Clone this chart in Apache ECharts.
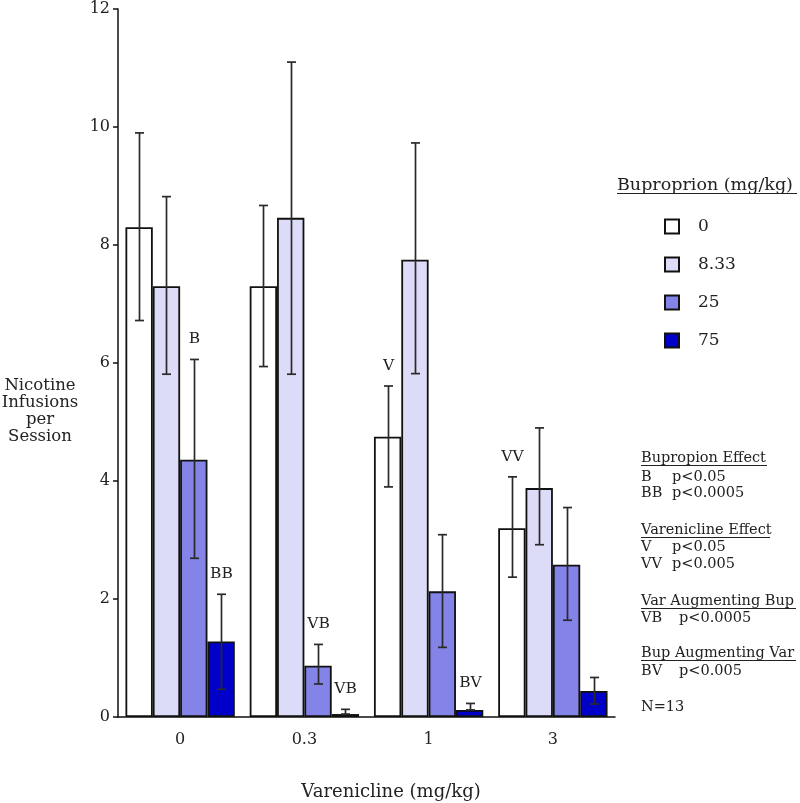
<!DOCTYPE html>
<html><head><meta charset="utf-8">
<script src="https://cdn.jsdelivr.net/npm/echarts@6/dist/echarts.min.js"></script>
<style>html,body{margin:0;padding:0;background:#fff}#c{width:800px;height:803px}</style>
</head><body><div id="c"></div>
<script>
const categories = ['0', '0.3', '1', '3'];
const seriesNames = ['0', '8.33', '25', '75'];
const mean0   = [8.30, 7.30, 4.75, 3.20];
const mean833 = [7.30, 8.46, 7.75, 3.88];
const mean25  = [4.36, 0.87, 2.13, 2.58];
const mean75  = [1.28, 0.05, 0.12, 0.44];
const low0    = [6.72, 5.94, 3.90, 2.37];
const high0   = [9.90, 8.67, 5.61, 4.07];
const low833  = [5.81, 5.81, 5.82, 2.92];
const high833 = [8.82, 11.10, 9.73, 4.90];
const low25   = [2.69, 0.56, 1.18, 1.64];
const high25  = [6.06, 1.23, 3.09, 3.55];
const low75   = [0.47, 0.05, 0.12, 0.22];
const high75  = [2.08, 0.13, 0.23, 0.67];
const marks0   = ['', '', 'V', 'VV'];
const marks833 = ['', '', '', ''];
const marks25  = ['B', 'VB', '', ''];
const marks75  = ['BB', 'VB', 'BV', ''];
const yTicks = [0, 2, 4, 6, 8, 10, 12];

const FONT = '"DejaVu Serif", "Liberation Serif", serif';
const colors = ['#ffffff', '#dcdcf8', '#8383e8', '#0000c8'];
const means = [mean0, mean833, mean25, mean75];
const lows = [low0, low833, low25, low75];
const highs = [high0, high833, high25, high75];
const marks = [marks0, marks833, marks25, marks75];
const CAT_GAP = 0.12;

const chart = echarts.init(document.getElementById('c'));

const series = [];
for (let s = 0; s < 4; s++) {
  series.push({
    name: seriesNames[s], type: 'bar', data: means[s],
    barGap: '0%', barCategoryGap: (CAT_GAP * 100) + '%',
    itemStyle: { color: colors[s], borderColor: '#111', borderWidth: 1.8 },
    z: 2
  });
}
for (let s = 0; s < 4; s++) {
  const data = categories.map((c, i) => [i, lows[s][i], highs[s][i], means[s][i]]);
  series.push({
    type: 'custom', name: 'err' + s, z: 5,
    data: data,
    encode: { x: 0, y: [1, 2] },
    renderItem: function (params, api) {
      const idx = api.value(0);
      const band = api.size([1, 0])[0];
      const bw = band * (1 - CAT_GAP) / 4;
      const c = api.coord([idx, 0]);
      const x = Math.round(c[0] + (s - 1.5) * bw) + 0.5;
      const lo = api.coord([idx, api.value(1)])[1];
      const hi = api.coord([idx, api.value(2)])[1];
      const cap = 4.5;
      const st = { stroke: '#2a2a2a', lineWidth: 1.7 };
      const children = [
        { type: 'line', shape: { x1: x, y1: lo, x2: x, y2: hi }, style: st },
        { type: 'line', shape: { x1: x - cap, y1: hi, x2: x + cap, y2: hi }, style: st },
        { type: 'line', shape: { x1: x - cap, y1: lo, x2: x + cap, y2: lo }, style: st }
      ];
      const m = marks[s][idx];
      if (m) {
        children.push({ type: 'text', x: x, y: hi - 20, style: { text: m, textAlign: 'center', textVerticalAlign: 'middle', font: '15.5px ' + FONT, fill: '#222' } });
      }
      return { type: 'group', children: children };
    }
  });
}

// right-hand notes: [label, p-text, p x-position, centre y, underline end or 0]
const notes = [
  ['Bupropion Effect', '', 0, 458, 767],
  ['B', 'p<0.05', 672, 477, 0],
  ['BB', 'p<0.0005', 672, 493, 0],
  ['Varenicline Effect', '', 0, 530, 770],
  ['V', 'p<0.05', 672, 547, 0],
  ['VV', 'p<0.005', 672, 564, 0],
  ['Var Augmenting Bup', '', 0, 601, 796],
  ['VB', 'p<0.0005', 679, 618, 0],
  ['Bup Augmenting Var', '', 0, 653, 796],
  ['BV', 'p<0.005', 679, 671, 0],
  ['N=13', '', 0, 707, 0]
];
const NF = '14.5px ' + FONT;
const graphics = [];
notes.forEach(n => {
  graphics.push({ type: 'text', x: 641, y: n[3], style: { text: n[0], font: NF, fill: '#222', textVerticalAlign: 'middle' } });
  if (n[1]) graphics.push({ type: 'text', x: n[2], y: n[3], style: { text: n[1], font: NF, fill: '#222', textVerticalAlign: 'middle' } });
  if (n[4]) graphics.push({ type: 'line', shape: { x1: 641, y1: n[3] + 7.5, x2: n[4], y2: n[3] + 7.5 }, style: { stroke: '#222', lineWidth: 1 } });
});
graphics.push({ type: 'text', x: 617, y: 185, style: { text: 'Buproprion (mg/kg)', font: '17.5px ' + FONT, fill: '#222', textVerticalAlign: 'middle' } });
graphics.push({ type: 'line', shape: { x1: 617, y1: 193.5, x2: 797, y2: 193.5 }, style: { stroke: '#222', lineWidth: 1 } });
graphics.push({ type: 'text', x: 40, y: 411, style: { text: 'Nicotine\nInfusions\nper\nSession', font: '16.5px ' + FONT, fill: '#222', textAlign: 'center', textVerticalAlign: 'middle', lineHeight: 17 } });
graphics.push({ type: 'text', x: 391, y: 792, style: { text: 'Varenicline (mg/kg)', font: '18px ' + FONT, fill: '#222', textAlign: 'center', textVerticalAlign: 'middle' } });

chart.setOption({
  animation: false,
  backgroundColor: '#fff',
  grid: { left: 118, right: 185, top: 9, bottom: 86, containLabel: false },
  legend: {
    data: seriesNames, orient: 'vertical', left: 659, top: 213,
    itemWidth: 14, itemHeight: 14, itemGap: 21, icon: 'rect',
    textStyle: { fontFamily: FONT, fontSize: 17, color: '#222', padding: [0, 0, 0, 14] }
  },
  xAxis: {
    type: 'category', data: categories,
    axisLine: { lineStyle: { color: '#111', width: 1.5 } },
    axisTick: { alignWithLabel: true, length: 5, lineStyle: { color: '#111', width: 1.5 } },
    axisLabel: { fontFamily: FONT, fontSize: 16, color: '#222', margin: 15 }
  },
  yAxis: {
    type: 'value', min: 0, max: 12, interval: 2,
    axisLine: { show: true, lineStyle: { color: '#111', width: 1.5 } },
    axisTick: { show: true, length: 5, lineStyle: { color: '#111', width: 1.5 } },
    splitLine: { show: false },
    axisLabel: { fontFamily: FONT, fontSize: 16, color: '#222', margin: 8,
      formatter: v => yTicks.indexOf(v) >= 0 ? String(v) : '' }
  },
  graphic: graphics,
  series: series
});
</script></body></html>
